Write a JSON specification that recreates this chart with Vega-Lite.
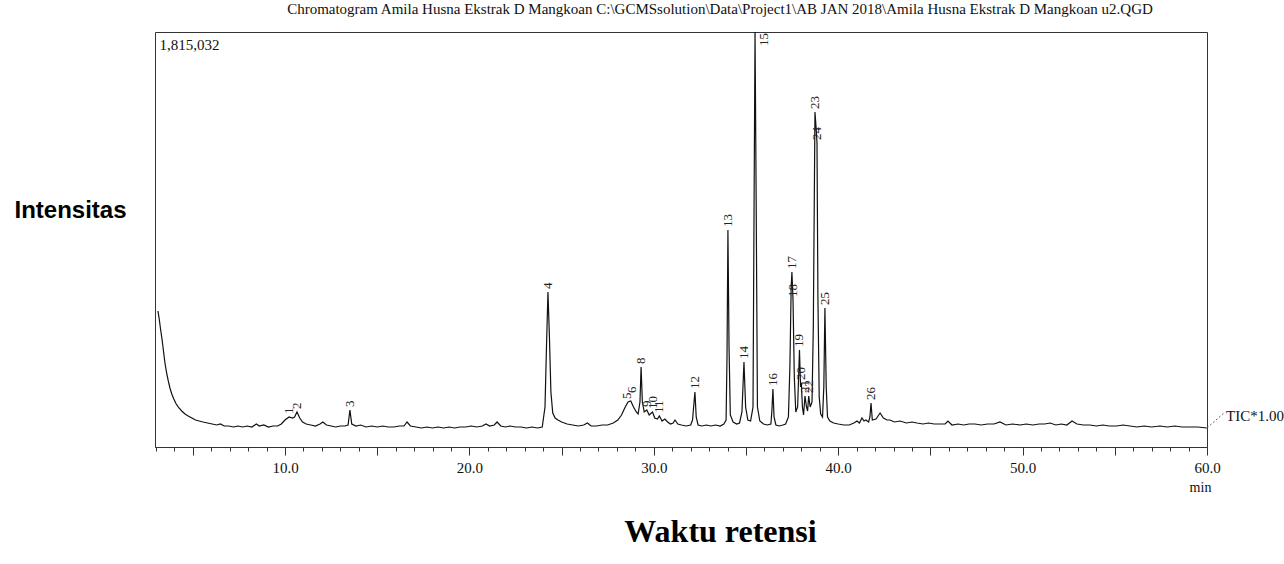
{
  "$schema": "https://vega.github.io/schema/vega-lite/v6.json",
  "width": 1052,
  "height": 415,
  "autosize": {"type": "none"},
  "padding": {"left": 155, "top": 32, "right": 77, "bottom": 117},
  "background": "white",
  "config": {"view": {"stroke": "#333", "strokeWidth": 1}, "font": "Liberation Serif"},
  "title": {
    "text": "Chromatogram Amila Husna Ekstrak D Mangkoan C:\\GCMSsolution\\Data\\Project1\\AB JAN 2018\\Amila Husna Ekstrak D Mangkoan u2.QGD",
    "font": "Liberation Serif", "fontSize": 15, "fontWeight": "normal", "color": "#111",
    "anchor": "middle", "dx": 39, "offset": 3, "baseline": "alphabetic"
  },
  "datasets": {
    "trace": [
      {"rt":3.11,"intensity":594864},{"rt":3.18,"intensity":559872},{"rt":3.25,"intensity":516132},{"rt":3.33,"intensity":472392},
      {"rt":3.41,"intensity":419904},{"rt":3.49,"intensity":367416},{"rt":3.58,"intensity":323676},{"rt":3.67,"intensity":288684},
      {"rt":3.76,"intensity":258066},{"rt":3.86,"intensity":231822},{"rt":3.97,"intensity":209952},{"rt":4.10,"intensity":188082},
      {"rt":4.25,"intensity":170586},{"rt":4.40,"intensity":157464},{"rt":4.58,"intensity":144342},{"rt":4.75,"intensity":135594},
      {"rt":4.95,"intensity":126846},{"rt":5.15,"intensity":118098},{"rt":5.35,"intensity":113724},{"rt":5.55,"intensity":109350},
      {"rt":5.80,"intensity":104976},{"rt":6.05,"intensity":100602},{"rt":6.30,"intensity":96228},{"rt":6.50,"intensity":100602},
      {"rt":6.70,"intensity":91854},{"rt":6.95,"intensity":91854},{"rt":7.20,"intensity":87480},{"rt":7.45,"intensity":91854},
      {"rt":7.70,"intensity":87480},{"rt":7.95,"intensity":91854},{"rt":8.20,"intensity":87480},{"rt":8.45,"intensity":100602},
      {"rt":8.60,"intensity":91854},{"rt":8.85,"intensity":96228},{"rt":9.10,"intensity":87480},{"rt":9.35,"intensity":91854},
      {"rt":9.60,"intensity":91854},{"rt":9.80,"intensity":100602},{"rt":10.00,"intensity":118098},{"rt":10.22,"intensity":131220},
      {"rt":10.40,"intensity":126846},{"rt":10.52,"intensity":131220},{"rt":10.65,"intensity":153090},{"rt":10.80,"intensity":126846},
      {"rt":10.95,"intensity":109350},{"rt":11.15,"intensity":100602},{"rt":11.40,"intensity":96228},{"rt":11.65,"intensity":91854},
      {"rt":11.90,"intensity":100602},{"rt":12.05,"intensity":109350},{"rt":12.25,"intensity":96228},{"rt":12.50,"intensity":91854},
      {"rt":12.75,"intensity":87480},{"rt":13.00,"intensity":91854},{"rt":13.25,"intensity":91854},{"rt":13.42,"intensity":96228},
      {"rt":13.52,"intensity":161838},{"rt":13.62,"intensity":100602},{"rt":13.85,"intensity":91854},{"rt":14.10,"intensity":96228},
      {"rt":14.40,"intensity":87480},{"rt":14.70,"intensity":91854},{"rt":15.00,"intensity":87480},{"rt":15.30,"intensity":91854},
      {"rt":15.60,"intensity":87480},{"rt":15.90,"intensity":87480},{"rt":16.20,"intensity":91854},{"rt":16.45,"intensity":91854},
      {"rt":16.62,"intensity":109350},{"rt":16.80,"intensity":91854},{"rt":17.10,"intensity":87480},{"rt":17.40,"intensity":83106},
      {"rt":17.70,"intensity":87480},{"rt":18.00,"intensity":83106},{"rt":18.30,"intensity":87480},{"rt":18.60,"intensity":83106},
      {"rt":18.90,"intensity":87480},{"rt":19.20,"intensity":83106},{"rt":19.50,"intensity":87480},{"rt":19.80,"intensity":87480},
      {"rt":20.10,"intensity":91854},{"rt":20.40,"intensity":87480},{"rt":20.70,"intensity":91854},{"rt":20.90,"intensity":100602},
      {"rt":21.10,"intensity":91854},{"rt":21.35,"intensity":96228},{"rt":21.50,"intensity":109350},{"rt":21.70,"intensity":91854},
      {"rt":21.95,"intensity":87480},{"rt":22.20,"intensity":91854},{"rt":22.50,"intensity":87480},{"rt":22.80,"intensity":87480},
      {"rt":23.10,"intensity":83106},{"rt":23.40,"intensity":87480},{"rt":23.70,"intensity":83106},{"rt":23.95,"intensity":87480},
      {"rt":24.10,"intensity":174960},{"rt":24.18,"intensity":437400},{"rt":24.26,"intensity":677970},{"rt":24.34,"intensity":481140},
      {"rt":24.42,"intensity":240570},{"rt":24.52,"intensity":148716},{"rt":24.65,"intensity":126846},{"rt":24.80,"intensity":118098},
      {"rt":25.00,"intensity":109350},{"rt":25.30,"intensity":100602},{"rt":25.60,"intensity":96228},{"rt":25.90,"intensity":91854},
      {"rt":26.20,"intensity":96228},{"rt":26.40,"intensity":104976},{"rt":26.60,"intensity":91854},{"rt":26.90,"intensity":91854},
      {"rt":27.20,"intensity":96228},{"rt":27.50,"intensity":96228},{"rt":27.80,"intensity":104976},{"rt":28.05,"intensity":118098},
      {"rt":28.25,"intensity":139968},{"rt":28.45,"intensity":174960},{"rt":28.60,"intensity":196830},{"rt":28.75,"intensity":201204},
      {"rt":28.90,"intensity":174960},{"rt":29.05,"intensity":153090},{"rt":29.15,"intensity":144342},{"rt":29.25,"intensity":196830},
      {"rt":29.31,"intensity":349920},{"rt":29.38,"intensity":196830},{"rt":29.48,"intensity":153090},{"rt":29.62,"intensity":161838},
      {"rt":29.75,"intensity":139968},{"rt":29.93,"intensity":153090},{"rt":30.05,"intensity":126846},{"rt":30.20,"intensity":122472},
      {"rt":30.30,"intensity":135594},{"rt":30.45,"intensity":113724},{"rt":30.60,"intensity":122472},{"rt":30.75,"intensity":109350},
      {"rt":30.90,"intensity":100602},{"rt":31.05,"intensity":104976},{"rt":31.15,"intensity":118098},{"rt":31.30,"intensity":100602},
      {"rt":31.50,"intensity":96228},{"rt":31.75,"intensity":91854},{"rt":32.00,"intensity":96228},{"rt":32.10,"intensity":118098},
      {"rt":32.15,"intensity":166212},{"rt":32.23,"intensity":240570},{"rt":32.30,"intensity":131220},{"rt":32.40,"intensity":96228},
      {"rt":32.60,"intensity":91854},{"rt":32.85,"intensity":96228},{"rt":33.10,"intensity":91854},{"rt":33.35,"intensity":96228},
      {"rt":33.60,"intensity":91854},{"rt":33.80,"intensity":100602},{"rt":33.92,"intensity":118098},{"rt":33.97,"intensity":393660},
      {"rt":34.02,"intensity":949158},{"rt":34.08,"intensity":437400},{"rt":34.15,"intensity":139968},{"rt":34.30,"intensity":109350},
      {"rt":34.50,"intensity":100602},{"rt":34.65,"intensity":104976},{"rt":34.78,"intensity":153090},{"rt":34.89,"intensity":371790},
      {"rt":34.98,"intensity":174960},{"rt":35.10,"intensity":118098},{"rt":35.25,"intensity":113724},{"rt":35.38,"intensity":174960},
      {"rt":35.44,"intensity":1093500},{"rt":35.49,"intensity":1815032},{"rt":35.55,"intensity":1093500},{"rt":35.62,"intensity":174960},
      {"rt":35.75,"intensity":113724},{"rt":35.95,"intensity":100602},{"rt":36.15,"intensity":96228},{"rt":36.35,"intensity":100602},
      {"rt":36.40,"intensity":153090},{"rt":36.46,"intensity":253692},{"rt":36.52,"intensity":131220},{"rt":36.62,"intensity":96228},
      {"rt":36.80,"intensity":91854},{"rt":37.00,"intensity":96228},{"rt":37.15,"intensity":100602},{"rt":37.30,"intensity":131220},
      {"rt":37.38,"intensity":349920},{"rt":37.45,"intensity":699840},{"rt":37.49,"intensity":765450},{"rt":37.55,"intensity":642978},
      {"rt":37.62,"intensity":306180},{"rt":37.70,"intensity":153090},{"rt":37.80,"intensity":174960},{"rt":37.90,"intensity":424278},
      {"rt":37.96,"intensity":262440},{"rt":38.00,"intensity":279936},{"rt":38.06,"intensity":174960},{"rt":38.12,"intensity":139968},
      {"rt":38.20,"intensity":223074},{"rt":38.28,"intensity":174960},{"rt":38.34,"intensity":157464},{"rt":38.40,"intensity":223074},
      {"rt":38.48,"intensity":174960},{"rt":38.58,"intensity":196830},{"rt":38.65,"intensity":524880},{"rt":38.74,"intensity":1465290},
      {"rt":38.80,"intensity":1399680},{"rt":38.85,"intensity":1329696},{"rt":38.90,"intensity":656100},{"rt":38.97,"intensity":218700},
      {"rt":39.05,"intensity":144342},{"rt":39.15,"intensity":131220},{"rt":39.22,"intensity":262440},{"rt":39.28,"intensity":607986},
      {"rt":39.35,"intensity":262440},{"rt":39.42,"intensity":131220},{"rt":39.55,"intensity":113724},{"rt":39.75,"intensity":104976},
      {"rt":40.00,"intensity":100602},{"rt":40.30,"intensity":96228},{"rt":40.60,"intensity":96228},{"rt":40.85,"intensity":104976},
      {"rt":41.02,"intensity":113724},{"rt":41.15,"intensity":104976},{"rt":41.29,"intensity":126846},{"rt":41.40,"intensity":113724},
      {"rt":41.50,"intensity":118098},{"rt":41.65,"intensity":109350},{"rt":41.72,"intensity":131220},{"rt":41.78,"intensity":192456},
      {"rt":41.85,"intensity":118098},{"rt":42.05,"intensity":122472},{"rt":42.27,"intensity":148716},{"rt":42.45,"intensity":126846},
      {"rt":42.65,"intensity":118098},{"rt":42.81,"intensity":118098},{"rt":43.05,"intensity":109350},{"rt":43.35,"intensity":113724},
      {"rt":43.70,"intensity":104976},{"rt":44.00,"intensity":109350},{"rt":44.27,"intensity":104976},{"rt":44.60,"intensity":100602},
      {"rt":44.90,"intensity":104976},{"rt":45.20,"intensity":100602},{"rt":45.50,"intensity":100602},{"rt":45.80,"intensity":100602},
      {"rt":45.95,"intensity":113724},{"rt":46.17,"intensity":96228},{"rt":46.50,"intensity":100602},{"rt":46.80,"intensity":96228},
      {"rt":47.10,"intensity":100602},{"rt":47.42,"intensity":100602},{"rt":47.75,"intensity":96228},{"rt":48.10,"intensity":100602},
      {"rt":48.45,"intensity":100602},{"rt":48.77,"intensity":109350},{"rt":49.10,"intensity":96228},{"rt":49.45,"intensity":100602},
      {"rt":49.86,"intensity":96228},{"rt":50.20,"intensity":100602},{"rt":50.55,"intensity":96228},{"rt":50.90,"intensity":100602},
      {"rt":51.20,"intensity":100602},{"rt":51.49,"intensity":104976},{"rt":51.80,"intensity":96228},{"rt":52.10,"intensity":100602},
      {"rt":52.40,"intensity":96228},{"rt":52.68,"intensity":113724},{"rt":52.95,"intensity":100602},{"rt":53.30,"intensity":96228},
      {"rt":53.65,"intensity":96228},{"rt":54.00,"intensity":91854},{"rt":54.35,"intensity":96228},{"rt":54.70,"intensity":91854},
      {"rt":55.10,"intensity":91854},{"rt":55.45,"intensity":96228},{"rt":55.82,"intensity":91854},{"rt":56.20,"intensity":87480},
      {"rt":56.60,"intensity":91854},{"rt":57.00,"intensity":87480},{"rt":57.45,"intensity":91854},{"rt":57.85,"intensity":87480},
      {"rt":58.25,"intensity":91854},{"rt":58.65,"intensity":87480},{"rt":59.08,"intensity":87480},{"rt":59.50,"intensity":87480},
      {"rt":60.00,"intensity":83106}
    ],
    "peaks": [
      {"peak":"1","rt":10.22,"intensity":131220},{"peak":"2","rt":10.65,"intensity":153090},
      {"peak":"3","rt":13.52,"intensity":161838},{"peak":"4","rt":24.26,"intensity":677970},
      {"peak":"5","rt":28.55,"intensity":196830},{"peak":"6","rt":28.80,"intensity":223074},
      {"peak":"8","rt":29.31,"intensity":349920},{"peak":"9","rt":29.62,"intensity":161838},
      {"peak":"10","rt":29.93,"intensity":153090},{"peak":"11","rt":30.30,"intensity":135594},
      {"peak":"12","rt":32.23,"intensity":240570},{"peak":"13","rt":34.02,"intensity":949158},
      {"peak":"14","rt":34.89,"intensity":371790},{"peak":"15","rt":35.98,"intensity":1740852},
      {"peak":"16","rt":36.46,"intensity":253692},{"peak":"17","rt":37.49,"intensity":765450},
      {"peak":"18","rt":37.55,"intensity":642978},{"peak":"19","rt":37.90,"intensity":424278},
      {"peak":"20","rt":38.00,"intensity":279936},{"peak":"21","rt":38.20,"intensity":223074},
      {"peak":"22","rt":38.40,"intensity":223074},{"peak":"23","rt":38.74,"intensity":1465290},
      {"peak":"24","rt":38.85,"intensity":1329696},{"peak":"25","rt":39.28,"intensity":607986},
      {"peak":"26","rt":41.78,"intensity":192456}
    ],
    "tic": [
      {"rt":60,"intensity":83106,"rt2":60.98,"intensity2":153090,"label":"TIC*1.00"}
    ]
  },
  "resolve": {"axis": {"x": "independent", "y": "independent"}},
  "layer": [
    {
      "data": {"name": "trace"},
      "mark": {"type": "line", "color": "#111", "strokeWidth": 1.2, "clip": true},
      "encoding": {
        "x": {
          "field": "rt", "type": "quantitative",
          "scale": {"domain": [2.95, 60], "nice": false, "zero": false},
          "axis": {
            "orient": "bottom",
            "values": [5, 10, 15, 20, 25, 30, 35, 40, 45, 50, 55, 60],
            "tickSize": 8, "tickColor": "#333", "domain": true, "domainColor": "#333", "grid": false,
            "labelExpr": "datum.value % 10 === 0 ? format(datum.value, '.1f') : ''",
            "labelFont": "Liberation Serif", "labelFontSize": 15, "labelColor": "#111",
            "labelPadding": 5, "labelFlush": false, "labelOverlap": false,
            "title": "Waktu retensi", "titleFont": "Liberation Serif", "titleFontSize": 32,
            "titleFontWeight": "bold", "titleColor": "#000", "titleX": 565, "titleY": 94,
            "titleAlign": "center", "titleBaseline": "alphabetic"
          }
        },
        "y": {
          "field": "intensity", "type": "quantitative",
          "scale": {"domain": [0, 1815032], "nice": false, "zero": false},
          "axis": {
            "orient": "left", "values": [1815032], "ticks": false, "tickSize": 0, "domain": false, "grid": false,
            "format": ",d", "labelAlign": "left", "labelBaseline": "top", "labelPadding": -4, "labelOffset": 5,
            "labelFont": "Liberation Serif", "labelFontSize": 15, "labelColor": "#111", "labelFlush": false,
            "title": "Intensitas", "titleAngle": 0, "titleFont": "Liberation Sans", "titleFontSize": 24,
            "titleFontWeight": "bold", "titleColor": "#000", "titleX": -85, "titleY": 185,
            "titleAlign": "center", "titleBaseline": "alphabetic"
          }
        }
      }
    },
    {
      "data": {"name": "peaks"},
      "mark": {"type": "text", "angle": 270, "align": "left", "baseline": "middle", "dx": 3,
               "font": "Liberation Serif", "fontSize": 13, "color": "#222"},
      "encoding": {
        "x": {
          "field": "rt", "type": "quantitative",
          "scale": {"domain": [2.95, 60], "nice": false, "zero": false},
          "axis": {
            "orient": "bottom",
            "values": [3,4,5,6,7,8,9,10,11,12,13,14,15,16,17,18,19,20,21,22,23,24,25,26,27,28,29,30,31,32,33,34,35,36,37,38,39,40,41,42,43,44,45,46,47,48,49,50,51,52,53,54,55,56,57,58,59,60],
            "tickSize": 4, "tickColor": "#333", "labels": false, "domain": false, "grid": false,
            "title": "min", "titleFont": "Liberation Serif", "titleFontSize": 14, "titleFontWeight": "normal",
            "titleColor": "#111", "titleX": 1045, "titleY": 44, "titleAlign": "center", "titleBaseline": "alphabetic"
          }
        },
        "y": {"field": "intensity", "type": "quantitative", "scale": {"domain": [0, 1815032], "nice": false, "zero": false}, "axis": null},
        "text": {"field": "peak"}
      }
    },
    {
      "data": {"name": "tic"},
      "mark": {"type": "rule", "color": "#666", "strokeDash": [2, 2], "strokeWidth": 1, "clip": false},
      "encoding": {
        "x": {"field": "rt", "type": "quantitative", "scale": {"domain": [2.95, 60], "nice": false, "zero": false}, "axis": null},
        "y": {"field": "intensity", "type": "quantitative", "scale": {"domain": [0, 1815032], "nice": false, "zero": false}, "axis": null},
        "x2": {"field": "rt2"},
        "y2": {"field": "intensity2"}
      }
    },
    {
      "data": {"name": "tic"},
      "mark": {"type": "text", "align": "left", "baseline": "middle", "dx": 1, "dy": 4, "clip": false,
               "font": "Liberation Serif", "fontSize": 15, "color": "#111"},
      "encoding": {
        "x": {"field": "rt2", "type": "quantitative", "scale": {"domain": [2.95, 60], "nice": false, "zero": false}, "axis": null},
        "y": {"field": "intensity2", "type": "quantitative", "scale": {"domain": [0, 1815032], "nice": false, "zero": false}, "axis": null},
        "text": {"field": "label"}
      }
    }
  ]
}
